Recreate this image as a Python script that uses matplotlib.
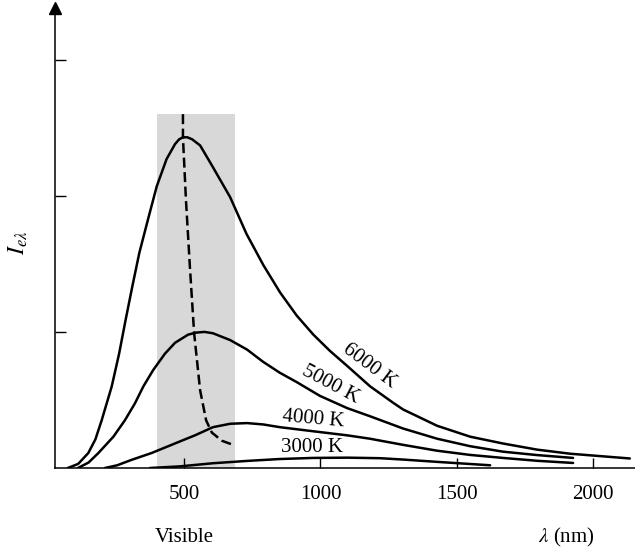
import matplotlib.pyplot as plt

plt.rcParams['font.family'] = ['Liberation Serif', 'DejaVu Serif']
plt.rcParams['mathtext.fontset'] = 'stix'

# wavelength (nm) and spectral intensity (arbitrary units)
wl_6000 = [74, 112, 149, 175, 198, 235, 262, 286, 310, 336, 367, 400, 436, 467, 482, 496,
           512, 530, 559, 606, 669, 729, 791, 852, 913, 974, 1035, 1098, 1182, 1266, 1303,
           1428, 1549, 1669, 1794, 1915, 2134]
I_6000 = [0, 0.03, 0.11, 0.21, 0.35, 0.60, 0.84, 1.09, 1.33, 1.58, 1.82, 2.07, 2.27, 2.38,
          2.415, 2.43, 2.43, 2.415, 2.37, 2.21, 1.99, 1.72, 1.49, 1.29, 1.12, 0.98, 0.86,
          0.75, 0.60, 0.48, 0.43, 0.31, 0.23, 0.18, 0.135, 0.105, 0.07]

wl_5000 = [111, 150, 186, 241, 283, 320, 351, 387, 430, 467, 515, 545, 575, 606, 669, 731,
           790, 851, 914, 998, 1098, 1182, 1303, 1428, 1549, 1669, 1794, 1926]
I_5000 = [0, 0.04, 0.11, 0.23, 0.35, 0.475, 0.60, 0.72, 0.84, 0.92, 0.98, 0.995, 1.0, 0.99,
          0.94, 0.87, 0.78, 0.70, 0.63, 0.53, 0.44, 0.38, 0.29, 0.215, 0.16, 0.12, 0.095,
          0.074]

wl_4000 = [210, 255, 308, 381, 442, 503, 540, 606, 669, 731, 790, 851, 973, 1098, 1182,
           1303, 1428, 1549, 1669, 1794, 1926]
I_4000 = [0, 0.02, 0.06, 0.11, 0.16, 0.21, 0.24, 0.30, 0.325, 0.33, 0.32, 0.30, 0.27,
          0.24, 0.215, 0.17, 0.127, 0.096, 0.074, 0.053, 0.037]

wl_3000 = [375, 485, 606, 731, 851, 973, 1098, 1219, 1303, 1428, 1622]
I_3000 = [0, 0.012, 0.035, 0.052, 0.066, 0.074, 0.076, 0.072, 0.062, 0.045, 0.02]

# locus of the peaks (dashed)
wl_peak = [496, 496, 507, 522, 537, 559, 581, 602, 639, 680]
I_peak = [2.60, 2.43, 1.97, 1.46, 0.99, 0.57, 0.35, 0.26, 0.20, 0.17]

visible_band = [401, 687]
band_top = 2.6

x_ticks = [500, 1000, 1500, 2000]
x_labels = ['500', '1000', '1500', '2000']

labels = ['6000 K', '5000 K', '4000 K', '3000 K']
label_pos = [(1180, 0.75), (1035, 0.615), (975, 0.36), (969, 0.15)]
label_rot = [-37, -28, -5, 0]

fig = plt.figure(figsize=(6.35, 5.52), dpi=100)
ax = fig.add_axes([55 / 635, 84 / 552, 580 / 635, 460 / 552])

ax.fill_between(visible_band, 0, band_top, color='#d8d8d8', lw=0)

for wl, I in [(wl_6000, I_6000), (wl_5000, I_5000), (wl_4000, I_4000), (wl_3000, I_3000)]:
    ax.plot(wl, I, color='black', lw=1.8, solid_capstyle='round', solid_joinstyle='round')

ax.plot(wl_peak, I_peak, color='black', lw=1.8, ls=(0, (4, 1.8)))

for txt, (x, y), r in zip(labels, label_pos, label_rot):
    ax.text(x, y, txt, fontsize=15, rotation=r, ha='center', va='center',
            rotation_mode='anchor')

ax.set_xlim(27, 2153)
ax.set_ylim(0, 3.38)
ax.set_xticks(x_ticks)
ax.set_xticklabels(x_labels)
ax.set_yticks([1, 2, 3])
ax.set_yticklabels([])
ax.tick_params(axis='x', direction='in', length=7, width=1, pad=12, labelsize=15)
ax.tick_params(axis='y', direction='in', length=8, width=1)

for s in ['top', 'right']:
    ax.spines[s].set_visible(False)
for s in ['left', 'bottom']:
    ax.spines[s].set_linewidth(1.1)

# arrow head on the y axis
ax.plot([0], [1], marker='^', ms=9, color='black', transform=ax.transAxes, clip_on=False)

fig.text(18 / 635, 1 - 243 / 552, r'$I_{e\lambda}$', rotation=90, fontsize=17,
         ha='center', va='center')
fig.text(184 / 635, 1 - 537 / 552, 'Visible', fontsize=15, ha='center', va='center')
fig.text(566 / 635, 1 - 537 / 552, r'$\lambda$ (nm)', fontsize=15, ha='center', va='center')

fig.savefig('out.png', dpi=100)
